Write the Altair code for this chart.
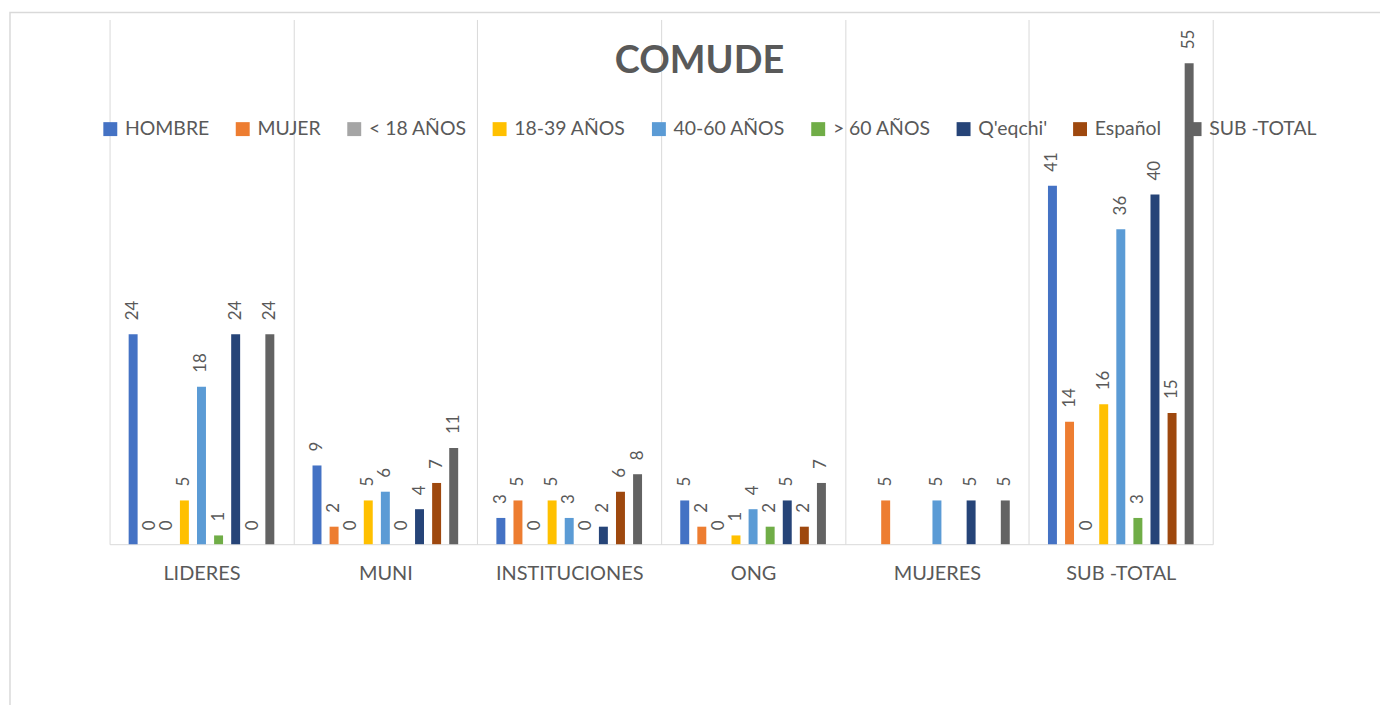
import altair as alt
import pandas as pd

categories = ["LIDERES", "MUNI", "INSTITUCIONES", "ONG", "MUJERES", "SUB -TOTAL"]
series = ["HOMBRE", "MUJER", "< 18 AÑOS", "18-39 AÑOS", "40-60 AÑOS",
          "> 60 AÑOS", "Q'eqchi'", "Español", "SUB -TOTAL"]
colors = ["#4472C4", "#ED7D31", "#A5A5A5", "#FFC000", "#5B9BD5",
          "#70AD47", "#264478", "#9E480E", "#636363"]

hombre = [24, 9, 3, 5, None, 41]
mujer = [0, 2, 5, 2, 5, 14]
menor_18 = [0, 0, 0, 0, None, 0]
edad_18_39 = [5, 5, 5, 1, None, 16]
edad_40_60 = [18, 6, 3, 4, 5, 36]
mayor_60 = [1, 0, 0, 2, None, 3]
qeqchi = [24, 4, 2, 5, 5, 40]
espanol = [0, 7, 6, 2, None, 15]
sub_total = [24, 11, 8, 7, 5, 55]

values = [hombre, mujer, menor_18, edad_18_39, edad_40_60,
          mayor_60, qeqchi, espanol, sub_total]

rows = []
for s, vals in zip(series, values):
    for c, v in zip(categories, vals):
        rows.append({"categoria": c, "serie": s, "valor": v})
df = pd.DataFrame(rows)

W, H = 1108, 527
TXT = "#595959"
FONT = "Lato"

base = alt.Chart(df).encode(
    x=alt.X("categoria:N", sort=categories,
            scale=alt.Scale(paddingInner=0, paddingOuter=0),
            axis=alt.Axis(title=None, labelAngle=0, tickBand="extent",
                          grid=True, gridColor="#D9D9D9", gridWidth=1,
                          ticks=False, domainColor="#D9D9D9", domainWidth=1,
                          labelFontSize=20, labelFont=FONT, labelColor=TXT,
                          labelPadding=19)),
    xOffset=alt.XOffset("serie:N", sort=series,
                        scale=alt.Scale(paddingInner=0.24, paddingOuter=1)),
    y=alt.Y("valor:Q", scale=alt.Scale(domain=[0, 60], nice=False), axis=None),
)

bars = base.mark_bar(width=9).encode(
    color=alt.Color("serie:N", sort=series,
                    scale=alt.Scale(domain=series, range=colors),
                    legend=alt.Legend(title=None, orient="none", legendX=-9, legendY=100,
                                      direction="horizontal", columns=9,
                                      symbolType="square", symbolSize=196,
                                      symbolStrokeWidth=0, labelFontSize=19.5,
                                      labelFont=FONT, labelColor=TXT,
                                      labelOffset=5, columnPadding=23)),
)

labels = base.transform_filter("isValid(datum.valor)").mark_text(
    angle=270, align="left", baseline="middle", dx=14,
    fontSize=17, font=FONT, color=TXT,
).encode(text=alt.Text("valor:Q"))

frame = alt.Chart(pd.DataFrame({"k": [0]})).mark_rect(
    fill="transparent", stroke="#D9D9D9", strokeWidth=1.5
).encode(x=alt.value(-100), x2=alt.value(1285), y=alt.value(-7), y2=alt.value(720))

chart = alt.layer(frame, bars, labels).properties(
    width=W, height=H,
    title=alt.TitleParams(text="COMUDE", font=FONT, fontSize=38, fontWeight="bold",
                          color=TXT, anchor="middle", frame="bounds", offset=-70),
    autosize=alt.AutoSizeParams(type="none"),
    padding={"left": 102, "top": 10, "right": 168, "bottom": 160},
).configure_view(strokeWidth=0)

chart.save("out.html", embed_options={"renderer": "svg", "actions": False})
